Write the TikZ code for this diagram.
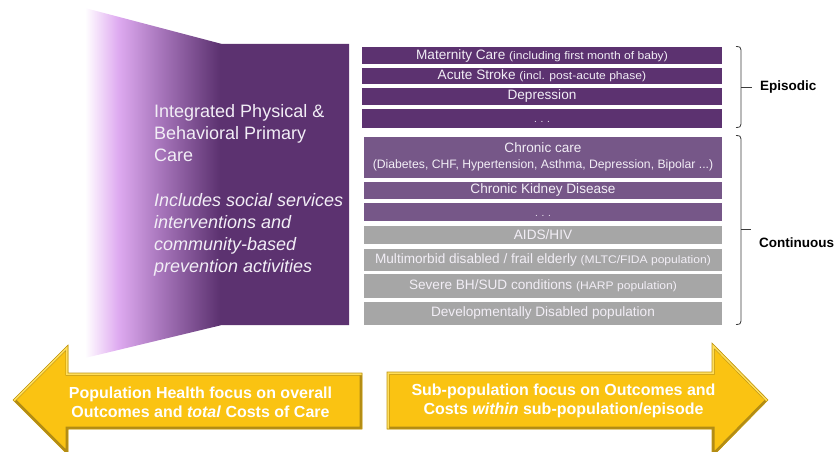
\documentclass[tikz,border=0pt]{standalone}
\usepackage{fontspec}
\usepackage{graphicx}
\setmainfont{Liberation Sans}
\newcommand{\myfs}[2]{\fontsize{#1pt}{#2pt}\selectfont}
\newcommand{\smtxt}[1]{{\myfs{11}{13}\scalebox{1.1}[1]{#1}}}
\definecolor{epi}{RGB}{92,50,112}
\definecolor{chr}{RGB}{118,87,136}
\definecolor{gry}{RGB}{166,166,166}
\definecolor{boxtxt}{RGB}{242,238,246}
\definecolor{pA}{RGB}{246,228,251}
\definecolor{pB}{RGB}{222,170,240}
\definecolor{pC}{RGB}{168,118,188}
\definecolor{pD}{RGB}{92,50,112}
\definecolor{gold}{RGB}{250,195,18}
\definecolor{golddk}{RGB}{178,140,20}
\definecolor{goldlt}{RGB}{255,222,90}
\definecolor{brkc}{RGB}{60,60,60}
\pgfdeclarehorizontalshading{panelshade}{100bp}{color(0bp)=(white); color(25bp)=(white); color(27bp)=(pA); color(31.3bp)=(pB); color(39.2bp)=(pC); color(50.5bp)=(pD); color(75bp)=(pD); color(100bp)=(pD)}
\begin{document}
\begin{tikzpicture}[x=1pt,y=-1pt,
  ebox/.style={fill=epi, inner sep=0pt, minimum width=360pt, text=boxtxt, font=\myfs{13.6}{16}},
  cbox/.style={fill=chr, inner sep=0pt, minimum width=358pt, text=boxtxt, font=\myfs{13.6}{16}},
  gbox/.style={fill=gry, inner sep=0pt, minimum width=358pt, text=boxtxt, font=\myfs{13.6}{16}},
  dots/.style={inner sep=0pt, text=boxtxt, font=\myfs{10}{12}},
  brk/.style={draw=brkc, line width=0.8pt},
  brklbl/.style={anchor=west, inner sep=0pt, font=\bfseries\myfs{13.5}{16}},
  goldfill/.style={fill=gold},
  bevdark/.style={draw=golddk, line width=5pt, line join=miter},
  bevlight/.style={draw=goldlt, line width=4pt, line join=miter},
  goldedge/.style={draw=golddk!80!gold, line width=0.6pt, line join=miter},
  arrowtxt/.style={inner sep=0pt, text=white, align=center, font=\bfseries\myfs{16}{19.3}},
  paneltxt/.style={anchor=north west, inner sep=0pt, align=left, text=boxtxt}]
\useasboundingbox (0,0) rectangle (835,452);

% gradient panel
\shade[shading=panelshade] (85,8) -- (222,44) -- (349,44) -- (349,325) -- (222,325) -- (85,358) -- cycle;
\node[paneltxt, font=\myfs{18}{22.2}] (t1) at (154,104) {Integrated Physical \&\\Behavioral Primary\\Care};
\node[paneltxt, font=\itshape\myfs{18}{22}] (t2) at (154,193.5) {Includes social services\\interventions and\\community-based\\prevention activities};

% episodic boxes
\node[ebox, minimum height=17pt] (m1) at (542,56) {Maternity Care \smtxt{(including first month of baby)}};
\node[ebox, minimum height=15pt] (m2) at (542,76) {Acute Stroke \smtxt{(incl. post-acute phase)}};
\node[ebox, minimum height=17pt] (m3) at (542,96) {Depression};
\node[ebox, minimum height=19pt] (m4) at (542,118) {};
\node[dots] (m4d) at (542,121.5) {. . .};

% chronic boxes
\node[cbox, minimum height=41pt, align=center] (c1) at (543,157) {Chronic care\\{\myfs{12.2}{14.6}(Diabetes, CHF, Hypertension, Asthma, Depression, Bipolar ...)}};
\node[cbox, minimum height=17pt] (c2) at (543,190) {Chronic Kidney Disease};
\node[cbox, minimum height=18pt] (c3) at (543,211.5) {};
\node[dots] (c3d) at (543,215.5) {. . .};

% grey boxes
\node[gbox, minimum height=18pt] (g1) at (543,234.5) {AIDS/HIV};
\node[gbox, minimum height=22pt] (g2) at (543,259.5) {Multimorbid disabled / frail elderly \smtxt{(MLTC/FIDA population)}};
\node[gbox, minimum height=24pt] (g3) at (543,285.5) {Severe BH/SUD conditions \smtxt{(HARP population)}};
\node[gbox, minimum height=23pt] (g4) at (543,313) {Developmentally Disabled population};

% brackets
\coordinate (eMid) at (741,87);
\coordinate (cMid) at (741,229);
\draw[brk] (736,46.5) .. controls (740,46.5) and (741,47.5) .. (741,50) -- (741,124) .. controls (741,126.5) and (740,127.5) .. (736,127.5);
\draw[brk] (736,135.5) .. controls (740,135.5) and (741,136.5) .. (741,139) -- (741,321) .. controls (741,323.5) and (740,324.5) .. (736,324.5);
\node[brklbl] (epl) at (760,87) {Episodic};
\node[brklbl] (col) at (759,243) {Continuous};
\draw[brk] (eMid) -- ++(11,0);
\draw[brk] (cMid) -- ++(10,0);

% left arrow
\begin{scope}
\clip (13,400) -- (68,345) -- (68,373) -- (362,373) -- (362,429) -- (68,429) -- (68,455) -- cycle;
\fill[goldfill] (0,330) rectangle (370,460);
\draw[bevdark] (13,400) -- (68,345) -- (68,373) -- (362,373) -- (362,429) -- (68,429) -- (68,455) -- cycle;
\draw[bevlight] (13,400) -- (68,345) -- (68,373) -- (362,373);
\end{scope}
\draw[goldedge] (13,400) -- (68,345) -- (68,373) -- (362,373) -- (362,429) -- (68,429) -- (68,455) -- cycle;

% right arrow
\begin{scope}
\clip (387,372) -- (712,372) -- (712,343) -- (768,400) -- (712,457) -- (712,429) -- (387,429) -- cycle;
\fill[goldfill] (380,330) rectangle (780,460);
\draw[bevdark] (387,372) -- (712,372) -- (712,343) -- (768,400) -- (712,457) -- (712,429) -- (387,429) -- cycle;
\draw[bevlight] (387,429) -- (387,372) -- (712,372) -- (712,343) -- (768,400);
\end{scope}
\draw[goldedge] (387,372) -- (712,372) -- (712,343) -- (768,400) -- (712,457) -- (712,429) -- (387,429) -- cycle;

\node[arrowtxt] (lt) at (200.5,402) {Population Health focus on overall\\Outcomes and \textit{total} Costs of Care};
\node[arrowtxt] (rt) at (563.5,401) {Sub-population focus on Outcomes and\\Costs \textit{within} sub-population/episode};
\end{tikzpicture}
\end{document}
